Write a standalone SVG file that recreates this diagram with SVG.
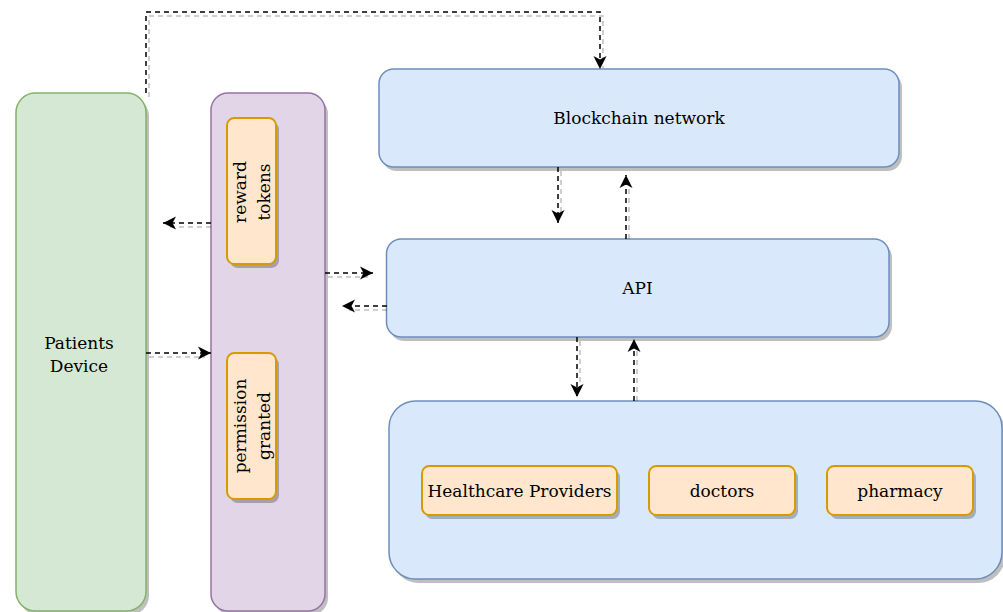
<svg xmlns="http://www.w3.org/2000/svg" width="1003" height="612" viewBox="0 0 1003 612">
<defs>
<style>
.sh{fill:#000;fill-opacity:.25;stroke:none}
.green{fill:#d5e8d4;stroke:#82b366;stroke-width:1.5}
.purple{fill:#e1d5e7;stroke:#9673a6;stroke-width:1.5}
.blue{fill:#dae8fc;stroke:#6c8ebf;stroke-width:1.5}
.orange{fill:#ffe6cc;stroke:#d79b00;stroke-width:2}
.t{font-family:"DejaVu Serif","Liberation Serif",serif;font-size:17px;fill:#000;text-anchor:middle}
.e{fill:none;stroke:#000;stroke-width:1.5;stroke-dasharray:5 4;marker-end:url(#arr)}
.es{fill:none;stroke:#000;stroke-opacity:.25;stroke-width:1.5;stroke-dasharray:5 4}
</style>
<marker id="arr" viewBox="0 0 14 14" refX="13" refY="7" markerWidth="14" markerHeight="14" orient="auto" markerUnits="userSpaceOnUse">
<path d="M0,0.5 L13,7 L0,13.5 L3.5,7 Z" fill="#000"/>
</marker>
</defs>
<rect width="1003" height="612" fill="#fff"/>

<g id="patients-device">
<rect class="sh" x="19" y="97" width="130" height="518" rx="19.5"/>
<rect class="green" x="16" y="93" width="130" height="518" rx="19.5"/>
<text class="t" x="79" y="349">Patients</text>
<text class="t" x="79" y="372">Device</text>
</g>

<g id="permission-container">
<rect class="sh" x="214" y="97" width="114" height="518" rx="17"/>
<rect class="purple" x="211" y="93" width="114" height="518" rx="17"/>
</g>

<g id="reward-tokens">
<rect class="sh" x="230" y="122" width="49" height="146" rx="7.4"/>
<rect class="orange" x="227" y="118" width="49" height="146" rx="7.4"/>
<g transform="translate(251.5,192) rotate(-90)">
<text class="t" x="0" y="-6">reward</text>
<text class="t" x="0" y="18">tokens</text>
</g>
</g>

<g id="permission-granted">
<rect class="sh" x="230" y="357" width="49" height="146" rx="7.4"/>
<rect class="orange" x="227" y="353" width="49" height="146" rx="7.4"/>
<g transform="translate(251.5,426) rotate(-90)">
<text class="t" x="0" y="-6">permission</text>
<text class="t" x="0" y="18">granted</text>
</g>
</g>

<g id="blockchain-network">
<rect class="sh" x="382" y="73" width="520" height="98" rx="14.7"/>
<rect class="blue" x="379" y="69" width="520" height="98" rx="14.7"/>
<text class="t" x="639" y="124">Blockchain network</text>
</g>

<g id="api">
<rect class="sh" x="389.5" y="243" width="502.5" height="98" rx="14.7"/>
<rect class="blue" x="386.5" y="239" width="502.5" height="98" rx="14.7"/>
<text class="t" x="637.5" y="294">API</text>
</g>

<g id="providers-container">
<rect class="sh" x="392" y="405" width="613" height="178" rx="26.7"/>
<rect class="blue" x="389" y="401" width="613" height="178" rx="26.7"/>
</g>

<g id="healthcare-providers">
<rect class="sh" x="425" y="470" width="195" height="49" rx="7.4"/>
<rect class="orange" x="422" y="466" width="195" height="49" rx="7.4"/>
<text class="t" x="519.5" y="497">Healthcare Providers</text>
</g>

<g id="doctors">
<rect class="sh" x="652" y="470" width="146" height="49" rx="7.4"/>
<rect class="orange" x="649" y="466" width="146" height="49" rx="7.4"/>
<text class="t" x="722" y="497">doctors</text>
</g>

<g id="pharmacy">
<rect class="sh" x="830" y="470" width="146" height="49" rx="7.4"/>
<rect class="orange" x="827" y="466" width="146" height="49" rx="7.4"/>
<text class="t" x="900" y="497">pharmacy</text>
</g>

<g id="connectors">
<path class="es" d="M149,97 V16 H603 V68"/>
<path class="e" d="M146,93 V12 H600 V69"/>
<path class="es" d="M211,227 H170"/>
<path class="e" d="M211,223 H163"/>
<path class="es" d="M149,357 H205"/>
<path class="e" d="M146,353 H211"/>
<path class="es" d="M328,277 H368"/>
<path class="e" d="M325,273 H373"/>
<path class="es" d="M387,310 H349"/>
<path class="e" d="M387,306 H342"/>
<path class="es" d="M561,171 V216"/>
<path class="e" d="M558,167 V223"/>
<path class="es" d="M629,239 V182"/>
<path class="e" d="M626,239 V175"/>
<path class="es" d="M580,341 V390"/>
<path class="e" d="M577,337 V397"/>
<path class="es" d="M637,401 V346"/>
<path class="e" d="M634,401 V339"/>
</g>
</svg>
